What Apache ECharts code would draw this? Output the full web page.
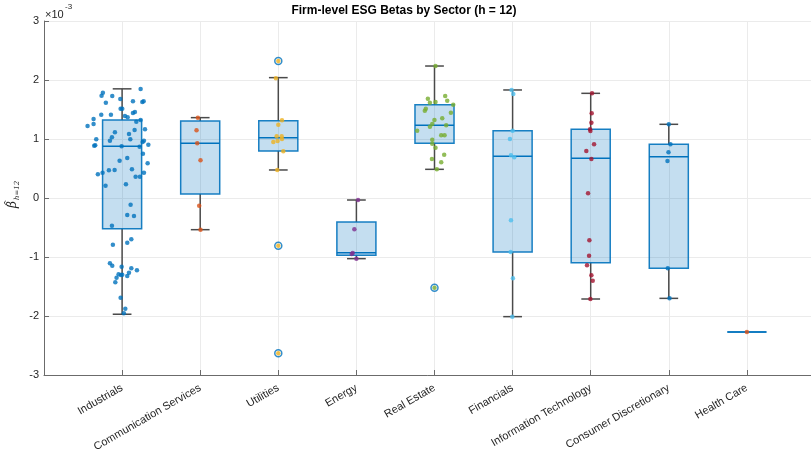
<!DOCTYPE html>
<html>
<head>
<meta charset="utf-8">
<script src="https://cdn.jsdelivr.net/npm/echarts@6/dist/echarts.min.js"></script>
<style>
  html, body { margin: 0; padding: 0; background: #ffffff; }
  #chart { width: 811px; height: 457px; }
</style>
</head>
<body>
<div id="chart"></div>
<script>
// Sectors along the x axis (positions 1..9)
const sectors = [
  'Industrials', 'Communication Services', 'Utilities', 'Energy', 'Real Estate',
  'Financials', 'Information Technology', 'Consumer Discretionary', 'Health Care'
];

// Box statistics per sector, betas in units of 1e-3
const whiskerLow  = [-1.97, -0.537, 0.475, -1.028, 0.486, -2.011, -1.712, -1.701, -2.271];
const quartile1   = [-0.52,  0.068, 0.797, -0.972, 0.927, -0.915, -1.096, -1.192, -2.271];
const medians     = [ 0.876, 0.927, 1.023, -0.927, 1.232,  0.706,  0.672,  0.701, -2.271];
const quartile3   = [ 1.32,  1.305, 1.311, -0.407, 1.582,  1.141,  1.164,  0.910, -2.271];
const whiskerHigh = [ 1.85,  1.362, 2.040, -0.034, 2.237,  1.831,  1.774,  1.249, -2.271];

// Outliers flagged by the box plot: sector position and value
const outlierSector = [3, 3, 3, 5];
const outlierValue  = [2.322, -0.808, -2.633, -1.520];

// Firm-level betas (1e-3) and their horizontal jitter (in category units)
const industrialsBeta = [1.847, 1.785, 1.734, 1.729, 1.678, 1.616, 1.638, 1.627, 1.638, 1.514, 1.514, 1.412, 1.412, 1.390, 1.441, 1.458, 1.367, 1.339, 1.220, 1.254, 1.322, 1.294, 1.153, 1.164, 1.113, 1.085, 1.028, 0.972, 0.994, 0.994, 0.887, 0.893, 0.949, 0.972, 0.904, 0.870, 0.876, 0.751, 0.633, 0.678, 0.588, 0.401, 0.429, 0.469, 0.475, 0.486, 0.362, 0.362, 0.429, 0.209, 0.232, -0.113, -0.288, -0.305, -0.469, -0.791, -0.757, -0.700, -1.107, -1.147, -1.164, -1.192, -1.226, -1.266, -1.294, -1.305, -1.299, -1.322, -1.350, -1.429, -1.689, -1.876, -1.955];
const industrialsJitter = [0.237, -0.246, -0.263, -0.126, -0.023, -0.208, 0.139, 0.259, 0.276, -0.019, 0.002, -0.267, -0.143, 0.036, 0.139, 0.164, 0.071, -0.365, -0.442, -0.365, 0.237, 0.182, 0.160, 0.293, -0.092, 0.088, -0.130, -0.156, 0.105, -0.331, -0.357, -0.344, 0.263, 0.280, 0.336, 0.224, -0.006, 0.267, -0.032, 0.066, 0.327, -0.310, -0.250, -0.169, -0.096, 0.126, 0.173, 0.228, 0.280, -0.212, 0.049, 0.109, 0.066, 0.152, -0.130, -0.118, 0.066, 0.118, -0.156, -0.126, -0.006, 0.118, 0.190, 0.088, -0.045, -0.015, 0.002, 0.066, -0.071, -0.087, -0.019, 0.041, 0.023];

const commServicesBeta   = [1.362, 1.147, 0.927, 0.638, -0.130, -0.537];
const commServicesJitter = [-0.030, -0.047, -0.038, 0.004, -0.013, 0.004];

const utilitiesBeta   = [2.322, 2.029, 1.316, 1.243, 1.047, 1.047, 1.000, 0.949, 0.966, 0.791, 0.475, -0.808, -2.633];
const utilitiesJitter = [0.000, -0.031, 0.047, 0.000, -0.021, 0.043, 0.047, -0.064, -0.009, 0.064, -0.013, 0.000, 0.000];

const energyBeta   = [-0.034, -0.531, -0.932, -0.949, -1.028];
const energyJitter = [0.021, -0.026, -0.047, -0.060, 0.000];

const realEstateBeta   = [2.237, 1.684, 1.729, 1.650, 1.616, 1.627, 1.582, 1.514, 1.480, 1.446, 1.350, 1.322, 1.254, 1.209, 1.232, 1.141, 1.062, 1.062, 0.989, 0.921, 0.853, 0.734, 0.661, 0.605, 0.486, -1.520];
const realEstateJitter = [0.013, -0.085, 0.137, 0.163, -0.059, 0.013, 0.240, -0.111, -0.124, 0.210, 0.099, -0.001, -0.029, -0.059, 0.150, -0.222, 0.086, 0.129, -0.029, -0.029, 0.013, 0.124, -0.033, 0.086, 0.030, 0.000];

const financialsBeta   = [1.831, 1.763, 1.141, 1.000, 0.723, 0.689, -0.379, -0.915, -1.362, -2.011];
const financialsJitter = [-0.013, 0.009, 0.000, -0.034, -0.021, 0.021, -0.021, -0.025, 0.004, -0.004];

const infoTechBeta   = [1.774, 1.435, 1.277, 1.164, 1.136, 0.910, 0.797, 0.661, 0.079, -0.717, -0.977, -1.141, -1.311, -1.401, -1.712];
const infoTechJitter = [0.017, 0.013, 0.009, -0.008, -0.004, 0.043, -0.056, 0.009, -0.034, -0.017, -0.021, -0.047, 0.009, 0.026, -0.004];

const consumerDiscBeta   = [1.249, 0.910, 0.774, 0.627, -1.192, -1.701];
const consumerDiscJitter = [0.000, 0.021, -0.004, -0.017, -0.013, 0.009];

const healthCareBeta   = [-2.271];
const healthCareJitter = [0.000];

// Tick values of the y axis (1e-3)
const yTicks = [-3, -2, -1, 0, 1, 2, 3];

const firmBetas = [industrialsBeta, commServicesBeta, utilitiesBeta, energyBeta, realEstateBeta,
  financialsBeta, infoTechBeta, consumerDiscBeta, healthCareBeta];
const firmJitter = [industrialsJitter, commServicesJitter, utilitiesJitter, energyJitter, realEstateJitter,
  financialsJitter, infoTechJitter, consumerDiscJitter, healthCareJitter];

const sectorColors = ['#0072BD', '#D95319', '#EDB120', '#7E2F8E', '#77AC30',
  '#4DBEEE', '#A2142F', '#0072BD', '#D95319'];

const FONT = "'Liberation Sans', Arial, Helvetica, sans-serif";
const SERIF = "'DejaVu Serif', 'Liberation Serif', serif";
const AXIS_COLOR = '#6b6b6b';
const TEXT_COLOR = '#262626';
const BOX_BLUE = '#0072BD';
const WHISKER = '#4a4a4a';

const boxData = sectors.map((s, i) => [i + 1, whiskerLow[i], quartile1[i], medians[i], quartile3[i], whiskerHigh[i]]);

function renderBox(params, api) {
  const x = api.value(0);
  const wl = api.value(1), lo = api.value(2), md = api.value(3), hi = api.value(4), wh = api.value(5);
  const halfBox = 0.25, halfCap = 0.12;
  const children = [];
  const line = (a, b, color, w) => ({
    type: 'line',
    shape: { x1: a[0], y1: a[1], x2: b[0], y2: b[1] },
    style: { stroke: color, lineWidth: w }
  });
  if (wh > hi) {
    children.push(line(api.coord([x, hi]), api.coord([x, wh]), WHISKER, 1.5));
    children.push(line(api.coord([x - halfCap, wh]), api.coord([x + halfCap, wh]), WHISKER, 1.5));
  }
  if (wl < lo) {
    children.push(line(api.coord([x, wl]), api.coord([x, lo]), WHISKER, 1.5));
    children.push(line(api.coord([x - halfCap, wl]), api.coord([x + halfCap, wl]), WHISKER, 1.5));
  }
  const tl = api.coord([x - halfBox, hi]);
  const br = api.coord([x + halfBox, lo]);
  children.push({
    type: 'rect',
    shape: { x: tl[0], y: tl[1], width: br[0] - tl[0], height: br[1] - tl[1] },
    style: { fill: 'rgba(0,114,189,0.26)', stroke: BOX_BLUE, lineWidth: 1.5, opacity: 0.9 }
  });
  children.push(line(api.coord([x - halfBox, md]), api.coord([x + halfBox, md]), BOX_BLUE, 1.5));
  return { type: 'group', children };
}

const pointSeries = sectors.map((s, i) => ({
  type: 'scatter',
  name: s,
  silent: true,
  z: 4,
  symbolSize: 4.5,
  itemStyle: { color: sectorColors[i], opacity: 0.8 },
  data: firmBetas[i].map((v, k) => [i + 1 + firmJitter[i][k], v])
}));

const chart = echarts.init(document.getElementById('chart'), null, { renderer: 'canvas' });

chart.setOption({
  backgroundColor: '#ffffff',
  animation: false,
  // plot area runs past the right edge of the canvas (x range 0..10)
  grid: { left: 44, width: 781, top: 21, height: 354, containLabel: false, outerBoundsMode: 'none' },
  xAxis: {
    type: 'value',
    min: 0, max: 10, interval: 1,
    axisLine: { show: true, onZero: false, lineStyle: { color: AXIS_COLOR, width: 1 } },
    axisTick: { show: true, inside: true, length: 5, lineStyle: { color: AXIS_COLOR } },
    splitLine: { show: true, lineStyle: { color: '#ebebeb', width: 1 } },
    axisLabel: {
      rotate: 30,
      margin: 12,
      fontFamily: FONT,
      fontSize: 11,
      color: TEXT_COLOR,
      formatter: (v) => sectors[v - 1] || ''
    }
  },
  yAxis: {
    type: 'value',
    min: yTicks[0], max: yTicks[yTicks.length - 1], interval: 1,
    axisLine: { show: true, lineStyle: { color: AXIS_COLOR, width: 1 } },
    axisTick: { show: true, inside: true, length: 5, lineStyle: { color: AXIS_COLOR } },
    splitLine: { show: true, lineStyle: { color: '#ebebeb', width: 1 } },
    axisLabel: { fontFamily: FONT, fontSize: 11, color: TEXT_COLOR, margin: 5 }
  },
  graphic: [
    {
      type: 'text', x: 404, y: 5,
      style: {
        text: 'Firm-level ESG Betas by Sector (h = 12)',
        fontFamily: FONT, fontSize: 12, fontWeight: 'bold', fill: '#000000', align: 'center'
      }
    },
    {
      type: 'text', x: 45, y: 9,
      style: { text: '×10', fontFamily: FONT, fontSize: 11, fill: TEXT_COLOR }
    },
    {
      type: 'text', x: 65, y: 3,
      style: { text: '-3', fontFamily: FONT, fontSize: 8, fill: TEXT_COLOR }
    },
    {
      // y-axis name: beta-hat with subscript h=12, reading bottom to top
      type: 'group', x: 19, y: 208, rotation: Math.PI / 2,
      children: [
        { type: 'text', x: 0, y: 0,
          style: { text: 'β', fontFamily: SERIF, fontStyle: 'italic', fontSize: 12, fill: TEXT_COLOR, align: 'left', verticalAlign: 'bottom' } },
        { type: 'text', x: 2, y: -8,
          style: { text: '^', fontFamily: SERIF, fontSize: 8, fill: TEXT_COLOR, align: 'left', verticalAlign: 'bottom' } },
        { type: 'text', x: 8, y: 2,
          style: { text: 'h=12', fontFamily: SERIF, fontStyle: 'italic', fontSize: 7, fill: TEXT_COLOR, align: 'left', verticalAlign: 'bottom' } }
      ]
    }
  ],
  series: [
    {
      type: 'custom',
      silent: true,
      z: 2,
      renderItem: renderBox,
      encode: { x: 0, y: [1, 2, 3, 4, 5] },
      data: boxData
    },
    {
      type: 'scatter',
      silent: true,
      z: 3,
      symbol: 'circle',
      symbolSize: 7,
      itemStyle: { color: 'rgba(255,255,255,0)', borderColor: BOX_BLUE, borderWidth: 1.5 },
      data: outlierSector.map((s, i) => [s, outlierValue[i]])
    },
    ...pointSeries
  ]
});
</script>
</body>
</html>
